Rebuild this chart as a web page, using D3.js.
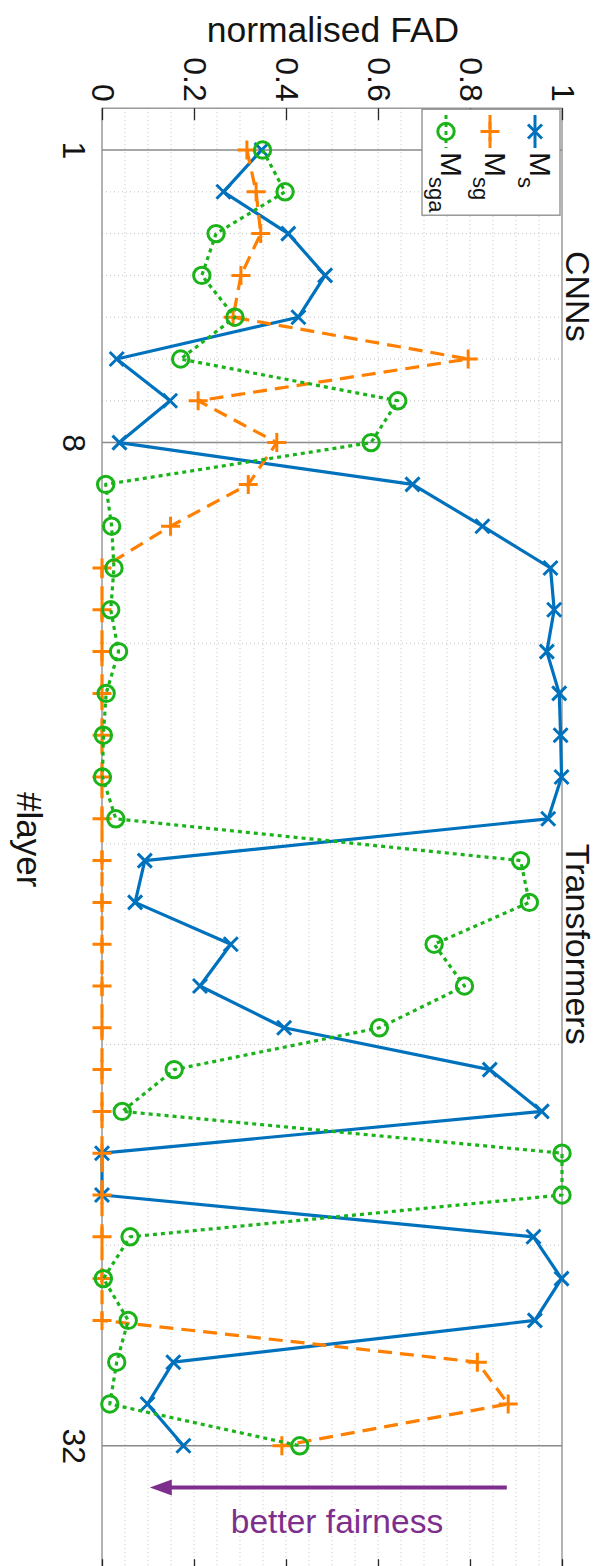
<!DOCTYPE html>
<html>
<head>
<meta charset="utf-8">
<script src="https://cdn.jsdelivr.net/npm/d3@7"></script>
<style>
  html, body { margin: 0; padding: 0; background: #fff; }
  svg { display: block; }
  text { font-family: "Liberation Sans", Arial, Helvetica, sans-serif; fill: #141414; }
</style>
</head>
<body>
<svg id="chart" width="600" height="1566"></svg>
<script>
// ---- data ----
const layers = [1,2,3,4,5,6,7,8,9,10,11,12,13,14,15,16,17,18,19,20,21,22,23,24,25,26,27,28,29,30,31,32];
const msValues = [0.347,0.264,0.405,0.485,0.427,0.032,0.148,0.038,
  0.675,0.827,0.975,0.983,0.967,0.994,0.997,0.999,0.970,
  0.093,0.072,0.280,0.213,0.396,0.843,0.956,
  0.0,0.0,0.938,0.999,0.941,0.155,0.099,0.177];
const msgValues = [0.315,0.335,0.345,0.302,0.285,0.796,0.209,0.380,
  0.318,0.149,0,0,0,0,0,0,0,0,0,0,0,0,0,0,0,0,0,0,0,
  0.816,0.883,0.391];
const msgaValues = [0.349,0.398,0.248,0.217,0.289,0.171,0.643,0.585,
  0.008,0.021,0.026,0.019,0.036,0.009,0.003,0.001,0.030,
  0.910,0.929,0.722,0.788,0.603,0.157,0.044,
  1.0,1.0,0.061,0.003,0.057,0.032,0.017,0.430];
const fadTicks = [0,0.2,0.4,0.6,0.8,1];
const fadTickLabels = ["0","0.2","0.4","0.6","0.8","1"];
const layerTicks = [1,8,32];
const layerMinor = [2,3,4,5,6,7,12.8,17.6,22.4,27.2];
const seriesNames = ["s","sg","sga"];
const groupLabels = ["CNNs","Transformers"];
const groupCenters = [4.5,20];
const arrowFrom = 0.88, arrowTo = 0.104, arrowLayer = 33;

// ---- scales ----
const svg = d3.select("#chart");
const x = d3.scaleLinear().domain([0,1]).range([102,562]);
const y = d3.scaleLinear().domain([0,35]).range([108.2, 108.2 + 35*41.8]);
const y0 = y(0), y1 = y(35);

const colors = {s:"#0072BD", sg:"#FF8000", sga:"#1AB31A"};
const dash = {s:null, sg:"14,8", sga:"4,4"};

// ---- grid ----
const g = svg.append("g");
g.selectAll("line.vgrid").data(d3.range(1,20).map(i=>i*0.05)).enter().append("line")
  .attr("x1",d=>x(d)).attr("x2",d=>x(d)).attr("y1",y0).attr("y2",y1)
  .attr("stroke","#c4c4c4").attr("stroke-width",1).attr("stroke-dasharray","1,3");
g.selectAll("line.hminor").data(layerMinor).enter().append("line")
  .attr("x1",x(0)).attr("x2",x(1)).attr("y1",d=>y(d)).attr("y2",d=>y(d))
  .attr("stroke","#c4c4c4").attr("stroke-width",1).attr("stroke-dasharray","1,3");
g.selectAll("line.hmajor").data(layerTicks).enter().append("line")
  .attr("x1",x(0)).attr("x2",x(1)).attr("y1",d=>y(d)).attr("y2",d=>y(d))
  .attr("stroke","#8a8a8a").attr("stroke-width",1.5);

// box
svg.append("rect").attr("x",x(0)).attr("y",y0).attr("width",x(1)-x(0)).attr("height",y1-y0)
  .attr("fill","none").attr("stroke","#8a8a8a").attr("stroke-width",1.3);

// ---- axes ----
const topAxis = d3.axisTop(x).tickValues(fadTicks).tickFormat((d,i)=>fadTickLabels[i]).tickSize(-12).tickSizeOuter(0);
const ta = svg.append("g").attr("transform",`translate(0,${y0})`).call(topAxis);
ta.select(".domain").remove();
ta.selectAll(".tick line").attr("stroke","#262626").attr("stroke-width",1.3);
ta.selectAll(".tick text").attr("transform","rotate(90)").attr("x",-6.5).attr("y",0).attr("dy",null)
  .attr("text-anchor","end").attr("dominant-baseline","central")
  .style("font-size","32px").style("font-family","Liberation Sans, Arial, sans-serif").attr("fill","#141414");

const botAxis = d3.axisBottom(x).tickValues(fadTicks).tickFormat("").tickSize(-12).tickSizeOuter(0);
const ba = svg.append("g").attr("transform",`translate(0,${y1})`).call(botAxis);
ba.select(".domain").remove();
ba.selectAll(".tick line").attr("stroke","#262626").attr("stroke-width",1.3);

const leftAxis = d3.axisLeft(y).tickValues(layerTicks).tickSize(0).tickSizeOuter(0);
const la = svg.append("g").attr("transform",`translate(${x(0)},0)`).call(leftAxis);
la.select(".domain").remove();
la.selectAll(".tick text").attr("transform","rotate(90)").attr("x",0).attr("y",28.5).attr("dy",null)
  .attr("text-anchor","middle").attr("dominant-baseline","central")
  .style("font-size","32px").style("font-family","Liberation Sans, Arial, sans-serif").attr("fill","#141414");

// ---- labels ----
svg.append("text").attr("x",333).attr("y",42).attr("text-anchor","middle")
  .style("font-size","35.5px").text("normalised FAD");
svg.append("text").attr("transform",`translate(17,${(y0+y1)/2}) rotate(90)`).attr("text-anchor","middle")
  .style("font-size","35px").text("#layer");
groupLabels.forEach((t,i)=>{
  svg.append("text").attr("transform",`translate(566,${y(groupCenters[i])}) rotate(90)`).attr("text-anchor","middle")
    .style("font-size","34px").text(t);
});

// ---- series ----
const series = [
  {key:"s", values:msValues},
  {key:"sg", values:msgValues},
  {key:"sga", values:msgaValues}
];
const line = d3.line().x(d=>x(d.v)).y(d=>y(d.l));

function drawMarker(sel, key, cx, cy){
  const c = colors[key];
  if(key==="s"){
    const r=7;
    sel.append("path").attr("d",`M${cx-r},${cy-r}L${cx+r},${cy+r}M${cx-r},${cy+r}L${cx+r},${cy-r}`)
      .attr("stroke",c).attr("stroke-width",3).attr("fill","none");
  } else if(key==="sg"){
    const r=9.5;
    sel.append("path").attr("d",`M${cx-r},${cy}L${cx+r},${cy}M${cx},${cy-r}L${cx},${cy+r}`)
      .attr("stroke",c).attr("stroke-width",3).attr("fill","none");
  } else {
    sel.append("circle").attr("cx",cx).attr("cy",cy).attr("r",8.2)
      .attr("stroke",c).attr("stroke-width",3).attr("fill","none");
  }
}

series.forEach(s=>{
  const pts = layers.map((l,i)=>({l:l, v:s.values[i]}));
  const gs = svg.append("g");
  gs.append("path").datum(pts).attr("d",line).attr("fill","none")
    .attr("stroke",colors[s.key]).attr("stroke-width",3.2)
    .attr("stroke-dasharray",dash[s.key]).attr("stroke-linejoin","round");
  pts.forEach(p=>drawMarker(gs, s.key, x(p.v), y(p.l)));
});

// ---- legend ----
const lg = svg.append("g");
lg.append("rect").attr("x",422).attr("y",y0+1).attr("width",138).attr("height",106)
  .attr("fill","#fff").attr("stroke","#8a8a8a").attr("stroke-width",1.3);
const legendX = {s:535, sg:490, sga:446};
seriesNames.forEach(k=>{
  const lx = legendX[k];
  lg.append("line").attr("x1",lx).attr("x2",lx).attr("y1",115).attr("y2",148)
    .attr("stroke",colors[k]).attr("stroke-width",3).attr("stroke-dasharray",dash[k]);
  drawMarker(lg, k, lx, 131.5);
  const t = lg.append("text").attr("transform",`translate(${lx-5},152) rotate(90)`)
    .style("font-size","30px");
  t.append("tspan").text("M");
  t.append("tspan").attr("dy",12).style("font-size","22px").text(k);
});

// ---- annotation ----
const ay = y(arrowLayer);
svg.append("line").attr("x1",x(arrowFrom)).attr("x2",x(arrowTo)+20).attr("y1",ay).attr("y2",ay)
  .attr("stroke","#7E2F8E").attr("stroke-width",4);
svg.append("path").attr("d",`M${x(arrowTo)},${ay}L${x(arrowTo)+22},${ay-8}L${x(arrowTo)+22},${ay+8}Z`)
  .attr("fill","#7E2F8E");
svg.append("text").attr("x",337).attr("y",1533).attr("text-anchor","middle")
  .style("font-size","33.5px").style("fill","#7E2F8E").text("better fairness");
</script>
</body>
</html>
